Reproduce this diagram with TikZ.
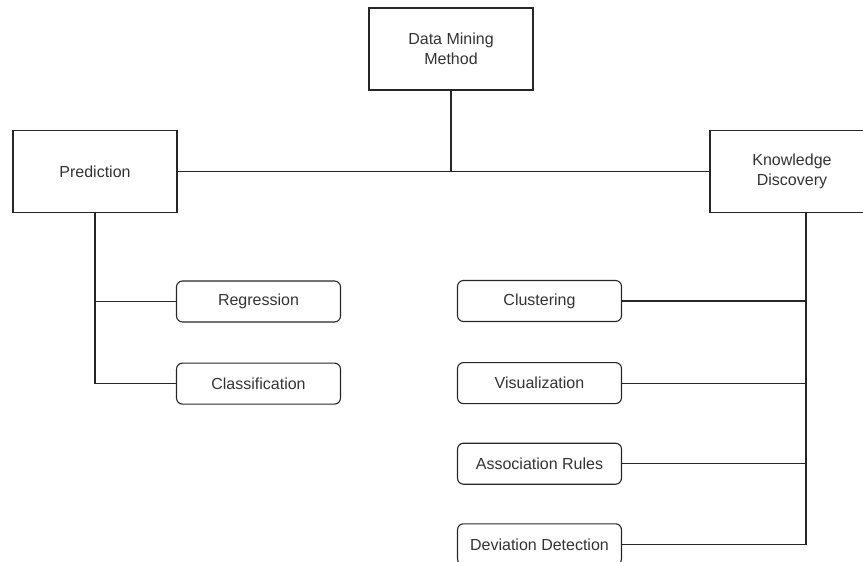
\documentclass[tikz,border=0pt]{standalone}
\usepackage{fontspec}
\setmainfont{Liberation Sans}
\usetikzlibrary{positioning}
\tikzset{block/.style=
   {rectangle,
    draw=black!85,
    line width=1.1pt,
    text=black!80,
    align=center,
    inner sep=0pt,
    minimum width=164pt,
    minimum height=82pt,
    font=\fontsize{16}{20}\selectfont}}
\tikzset{leaf/.style=
   {rectangle,
    draw=black!85,
    line width=1.1pt,
    text=black!80,
    rounded corners=6pt,
    inner sep=0pt,
    minimum width=164pt,
    minimum height=41pt,
    font=\fontsize{16}{20}\selectfont}}
\tikzset{link/.style = {draw=black!85, line width=1.1pt}}

\begin{document}
\begin{tikzpicture}[x=1pt,y=-1pt]

    \clip (0,0) rectangle (863,562);

    \node [block] (method) at (451,49)    {Data Mining\\Method};
    \node [block] (pred)   at (95,171.5)  {Prediction};
    \node [block] (know)   at (792,171.5) {Knowledge\\Discovery};

    % prediction branch
    \node [leaf] (regr) at (258.5,301.5) {Regression};
    \node [leaf,
           node distance = 40pt,
           below = of regr] (classif) {Classification};

    % knowledge discovery branch
    \node [leaf] (clust) at (539.5,301) {Clustering};
    \node [leaf,
           node distance = 40pt,
           below = of clust] (visual) {Visualization};
    \node [leaf,
           node distance = 38.5pt,
           below = of visual] (assoc) {Association Rules};
    \node [leaf,
           node distance = 38.5pt,
           below = of assoc] (deviat) {Deviation Detection};

    \coordinate (join) at (method.south |- pred.east);
    \coordinate (knowfoot) at ([xshift=14pt]know.south);

    \path [link] (method.south) -- (join);
    \path [link] (pred.east) -- (know.west);

    \path [link] (pred.south) |- (regr.west);
    \path [link] (pred.south) |- (classif.west);

    \path [link] (knowfoot) |- (clust.east);
    \path [link] (knowfoot) |- (visual.east);
    \path [link] (knowfoot) |- (assoc.east);
    \path [link] (knowfoot) |- (deviat.east);

\end{tikzpicture}
\end{document}
